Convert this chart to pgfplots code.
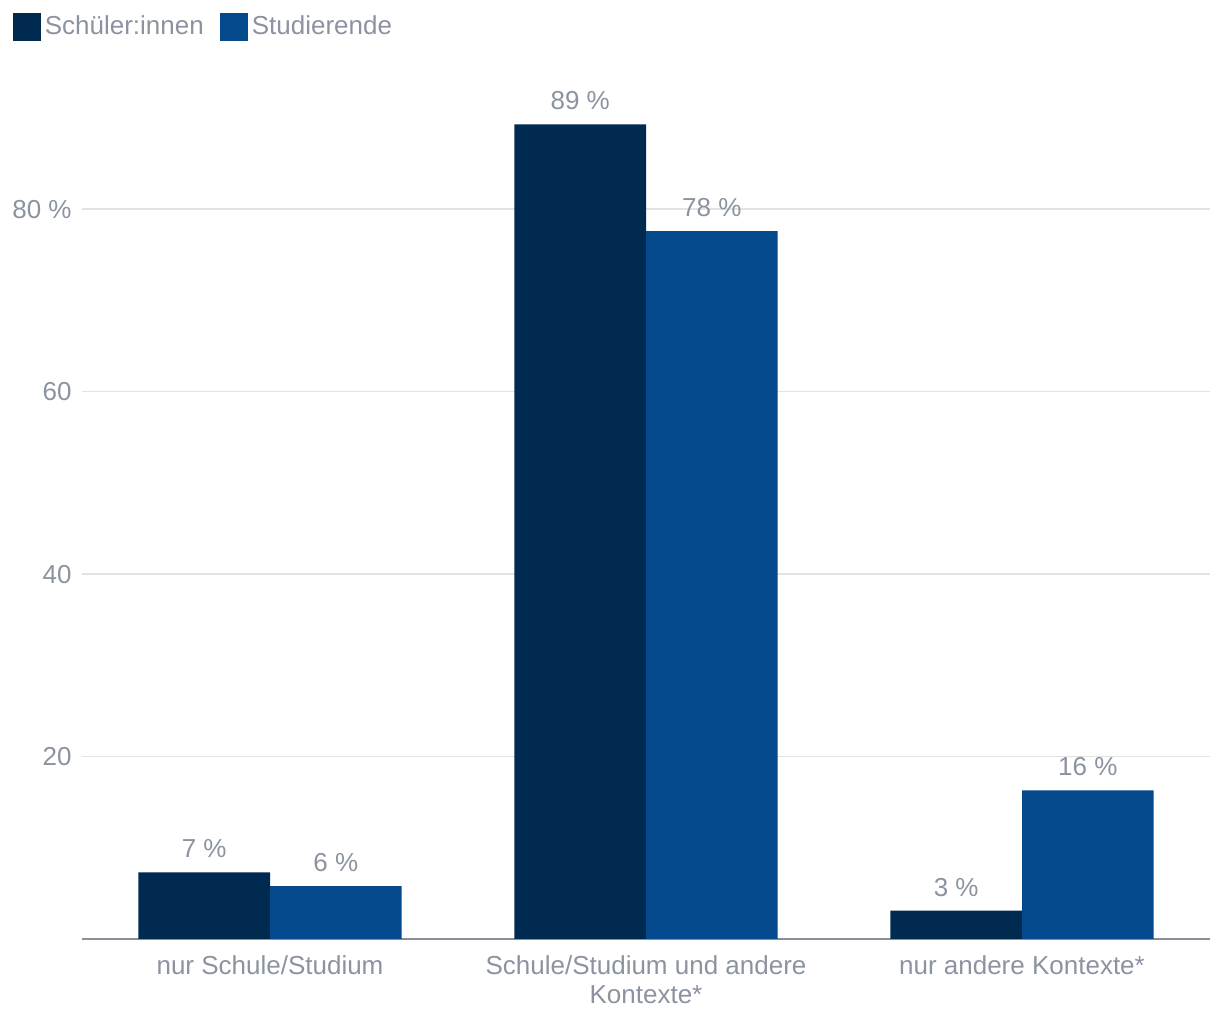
\documentclass[border=0pt]{standalone}
\usepackage{fontspec}
\setmainfont{Liberation Sans}
\usepackage{pgfplots}
\pgfplotsset{compat=1.18}
\definecolor{dark}{RGB}{0,42,80}
\definecolor{blu}{RGB}{3,73,139}
\definecolor{textgray}{RGB}{139,147,160}
\definecolor{gridgray}{RGB}{227,227,227}
\definecolor{axisgray}{RGB}{138,144,153}
\newcommand{\lf}{\fontsize{13}{14.5}\selectfont}
\begin{document}
\begin{tikzpicture}
\useasboundingbox (-41pt,-40.5pt) rectangle (569pt,469.5pt);
\begin{axis}[
  scale only axis, width=564pt, height=410.5pt,
  xmin=-0.5, xmax=2.5, ymin=0, ymax=90,
  axis x line*=bottom, axis y line*=left,
  axis line style={-},
  x axis line style={draw=axisgray, line width=1pt},
  y axis line style={draw=none},
  ytick={20,40,60,80}, yticklabels={20,40,60,80 \%},
  xtick={0,1,2},
  xticklabels={nur Schule/Studium, {Schule/Studium und andere\\Kontexte*}, nur andere Kontexte*},
  major tick length=0pt, tick style={draw=none},
  ymajorgrids, grid style={gridgray, line width=0.75pt},
  tick label style={font=\lf, text=textgray},
  yticklabel style={anchor=east, inner sep=0pt, xshift=-5pt},
  xticklabel style={anchor=north, inner sep=0pt, yshift=-8pt, align=center},
  clip=false,
  point meta=explicit symbolic,
  nodes near coords={\pgfplotspointmeta\ \%},
  nodes near coords style={font=\lf, text=textgray, anchor=south, inner sep=0pt, yshift=7pt},
  legend style={draw=none, fill=none, at={(-0.067,1.1108)}, anchor=west,
    font=\lf, text=textgray, /tikz/every even column/.append style={column sep=6pt}},
  legend columns=2, legend cell align=left,
  legend image code/.code={\fill[#1] (-1pt,-7pt) rectangle (13pt,7pt);},
]
\addplot[ybar, bar width=0.35, bar shift=-0.175, fill=dark, draw=none,
  every node near coord/.append style={xshift=-32.9pt}] table[meta=lab] {
x y lab
0 7.3 7
1 89.3 89
2 3.1 3
};
\addlegendentry{Schüler:innen}
\addplot[ybar, bar width=0.35, bar shift=0.175, fill=blu, draw=none,
  every node near coord/.append style={xshift=32.9pt}] table[meta=lab] {
x y lab
0 5.8 6
1 77.6 78
2 16.3 16
};
\addlegendentry{Studierende}
\end{axis}
\end{tikzpicture}
\end{document}
